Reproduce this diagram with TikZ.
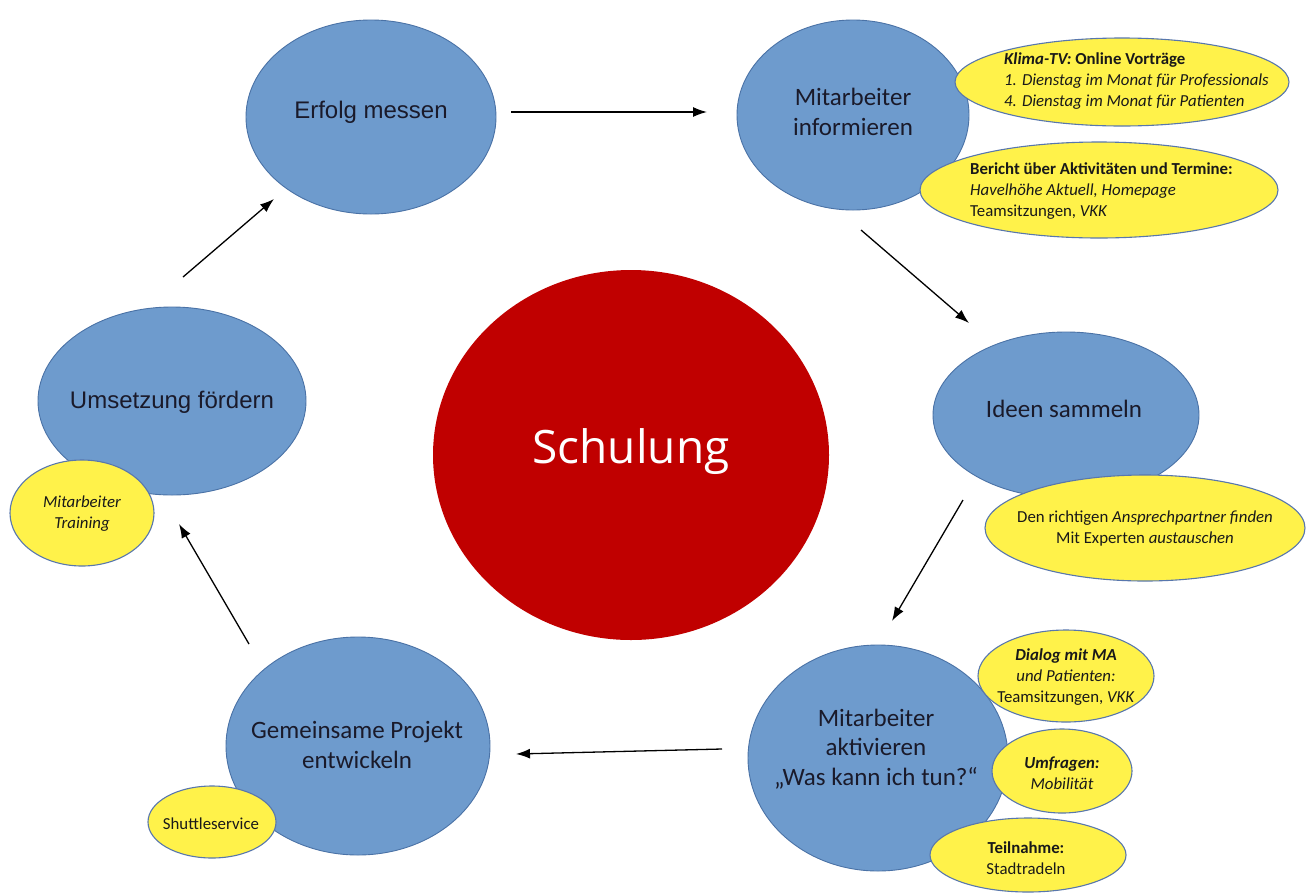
\documentclass[tikz,border=0pt]{standalone}
\usepackage{fontspec}
\setmainfont{Carlito}
\newfontfamily\arialf{Liberation Sans}
\newfontfamily\schulf{Open Sans}
\usetikzlibrary{shapes.geometric,arrows.meta}
\definecolor{bfill}{HTML}{6E9BCD}
\definecolor{bdraw}{HTML}{4A72A6}
\definecolor{yfill}{HTML}{FFF24A}
\definecolor{ydraw}{HTML}{5877AD}
\definecolor{rfill}{HTML}{C00000}
\definecolor{tdark}{HTML}{1A1A2A}
\tikzset{
  blueell/.style={ellipse, fill=bfill, draw=bdraw, line width=0.9pt, inner sep=0pt, text=tdark},
  yellell/.style={ellipse, fill=yfill, draw=ydraw, line width=1.1pt, inner sep=0pt},
  btext/.style={align=center, text=tdark, font=\fontsize{25}{29.5}\selectfont},
  atext/.style={align=center, text=tdark, font=\arialf\fontsize{24}{28}\selectfont},
  ytext/.style={text=black!90, font=\fontsize{16.8}{21}\selectfont, inner sep=0pt},
  flow/.style={draw=black, line width=1.3pt, -{Latex[length=14pt,width=10pt]}}
}
\begin{document}
\begin{tikzpicture}[x=1pt,y=-1pt]
\useasboundingbox (0,0) rectangle (1306,892);
\fill[white] (0,0) rectangle (1306,892);
% central
\node[ellipse, fill=rfill, minimum width=396pt, minimum height=370pt, inner sep=0pt] (schul) at (631,455) {};
\node[text=white, font=\schulf\fontsize{46}{50}\selectfont] (schult) at (631,452) {Schulung};
% blue circles
\node[blueell, minimum width=250pt, minimum height=194pt] (erfolg) at (371,117) {};
\node[atext] (erfolgt) at (371,112) {Erfolg messen};
\node[blueell, minimum width=232pt, minimum height=190pt] (info) at (853,115) {};
\node[btext] (infot) at (853,112) {Mitarbeiter\\informieren};
\node[blueell, minimum width=266pt, minimum height=166pt] (ideen) at (1066,415) {};
\node[btext] (ideent) at (1064,409) {Ideen sammeln};
\node[blueell, minimum width=260pt, minimum height=226pt] (aktiv) at (878,758) {};
\node[btext] (aktivt) at (876,749) {Mitarbeiter\\aktivieren\\„Was kann ich tun?“};
\node[blueell, minimum width=264pt, minimum height=218pt] (gemein) at (358,746) {};
\node[btext] (gemeint) at (357,745) {Gemeinsame Projekt\\entwickeln};
\node[blueell, minimum width=268pt, minimum height=188pt] (umsetz) at (172,401) {};
\node[atext] (umsetzt) at (172,402) {Umsetzung fördern};
% yellow ellipses
\node[yellell, minimum width=334pt, minimum height=88pt] (klima) at (1122,82) {};
\node[ytext, align=left, anchor=west] (klimat) at (1004,81) {\textbf{\textit{Klima-TV:} Online Vorträge}\\\textit{1. Dienstag im Monat für Professionals}\\\textit{4. Dienstag im Monat für Patienten}};
\node[yellell, minimum width=358pt, minimum height=96pt] (bericht) at (1099,190) {};
\node[ytext, align=left, anchor=west] (berichtt) at (970,191) {\textbf{Bericht über Aktivitäten und Termine:}\\\textit{Havelhöhe Aktuell, Homepage}\\Teamsitzungen, \textit{VKK}};
\node[yellell, minimum width=320pt, minimum height=106pt] (ansprech) at (1145,528) {};
\node[ytext, align=center] (ansprecht) at (1145,529) {Den richtigen \textit{Ansprechpartner finden}\\Mit Experten \textit{austauschen}};
\node[yellell, minimum width=176pt, minimum height=92pt] (dialog) at (1066,676) {};
\node[ytext, align=center] (dialogt) at (1066,677) {\textbf{\textit{Dialog mit MA}}\\\textit{und Patienten:}\\Teamsitzungen, \textit{VKK}};
\node[yellell, minimum width=140pt, minimum height=84pt] (umfrag) at (1062,771) {};
\node[ytext, align=center] (umfragt) at (1062,773) {\textbf{\textit{Umfragen:}}\\\textit{Mobilität}};
\node[yellell, minimum width=196pt, minimum height=74pt] (teiln) at (1028,855) {};
\node[ytext, align=center] (teilnt) at (1026,858) {\textbf{Teilnahme:}\\Stadtradeln};
\node[yellell, minimum width=128pt, minimum height=72pt] (shuttle) at (212,822) {};
\node[ytext] (shuttlet) at (211,824) {Shuttleservice};
\node[yellell, minimum width=144pt, minimum height=106pt] (train) at (82,513) {};
\node[ytext, align=center] (traint) at (82,514) {\textit{Mitarbeiter}\\\textit{Training}};
% arrow endpoints
\coordinate (a1s) at (511,112); \coordinate (a1e) at (707,112);
\coordinate (a2s) at (861,230); \coordinate (a2e) at (969,323);
\coordinate (a3s) at (963,500); \coordinate (a3e) at (892,621);
\coordinate (a4s) at (722,749); \coordinate (a4e) at (516,754);
\coordinate (a5s) at (249,644); \coordinate (a5e) at (179,524);
\coordinate (a6s) at (183,277); \coordinate (a6e) at (274,199);
\draw[flow] (a1s) -- (a1e);
\draw[flow] (a2s) -- (a2e);
\draw[flow] (a3s) -- (a3e);
\draw[flow] (a4s) -- (a4e);
\draw[flow] (a5s) -- (a5e);
\draw[flow] (a6s) -- (a6e);
\end{tikzpicture}
\end{document}
